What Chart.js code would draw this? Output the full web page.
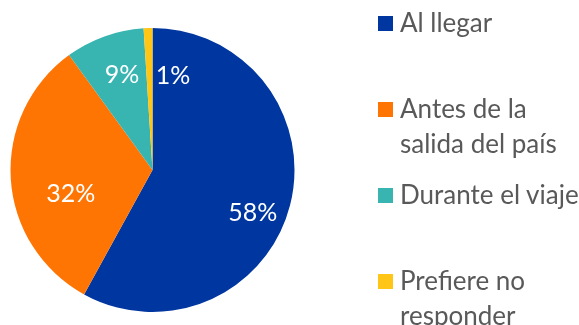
<!DOCTYPE html>
<html>
<head>
<meta charset="utf-8">
<script src="https://cdn.jsdelivr.net/npm/chart.js@4"></script>
<style>
    html, body { margin: 0; padding: 0; background: #ffffff; }
    #wrap { position: relative; width: 579px; height: 325px; overflow: hidden; }
    #legend { position: absolute; left: 378px; top: 5px; width: 210px;
              font-family: Lato, "Open Sans", sans-serif; font-size: 26px; color: #595959; }
    .item { height: 86px; display: flex; align-items: flex-start; }
    .box { width: 15px; height: 15px; margin-top: 11px; margin-right: 7px; flex: none; }
    .txt { line-height: 35px; width: 186px; }
</style>
</head>
<body>
<div id="wrap">
    <canvas id="pieChart" width="579" height="325"></canvas>
    <div id="legend"></div>
</div>
<script>
// ---------------------------
// Data
// ---------------------------

const categories = ["Al llegar", "Antes de la salida del país", "Durante el viaje", "Prefiere no responder"];
const values = [58, 32, 9, 1];
const colors = ["#0036A0", "#FF7504", "#38B5B1", "#FFC617"];

// label placement (angle nudge in degrees, fraction of radius)
const labelNudge = [9, -13, 2, 14];
const labelRadius = [0.77, 0.6, 0.70, 0.68];

// ---------------------------
// Percent labels inside slices
// ---------------------------

const pieLabels = {
    id: "pieLabels",
    afterDatasetsDraw(chart) {
        const ctx = chart.ctx;
        const meta = chart.getDatasetMeta(0);
        ctx.save();
        ctx.font = "25px Lato";
        ctx.fillStyle = "#ffffff";
        ctx.textAlign = "center";
        ctx.textBaseline = "middle";
        meta.data.forEach(function(arc, i) {
            const p = arc.getProps(["x", "y", "startAngle", "endAngle", "outerRadius"], true);
            const mid = (p.startAngle + p.endAngle) / 2 + labelNudge[i] * Math.PI / 180;
            const r = p.outerRadius * labelRadius[i];
            ctx.fillText(values[i] + "%", p.x + Math.cos(mid) * r, p.y + Math.sin(mid) * r);
        });
        ctx.restore();
    }
};

// ---------------------------
// Pie
// ---------------------------

const pieCanvas = document.getElementById("pieChart");

const chart = new Chart(pieCanvas, {

    type: "pie",

    data: {
        labels: categories,
        datasets: [{
            data: values,
            backgroundColor: colors,
            borderWidth: 0
        }]
    },

    options: {
        responsive: false,
        animation: false,
        layout: {
            padding: { left: 10.5, right: 284.5, top: 28, bottom: 13 }
        },
        plugins: {
            legend: { display: false },
            tooltip: { enabled: false }
        }
    },

    plugins: [pieLabels]

});

// ---------------------------
// Legend
// ---------------------------

const legendEl = document.getElementById("legend");

categories.forEach(function(name, i) {
    const item = document.createElement("div");
    item.className = "item";
    const box = document.createElement("span");
    box.className = "box";
    box.style.background = colors[i];
    const txt = document.createElement("span");
    txt.className = "txt";
    txt.textContent = name;
    item.appendChild(box);
    item.appendChild(txt);
    legendEl.appendChild(item);
});
</script>
</body>
</html>
